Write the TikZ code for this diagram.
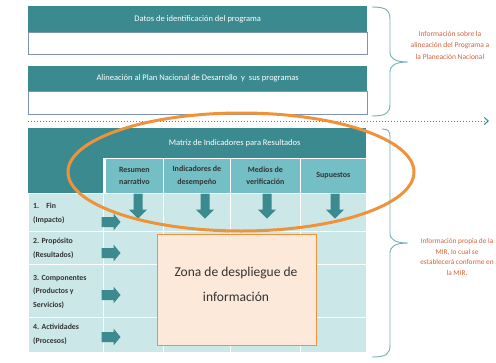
\documentclass[tikz,border=0pt]{standalone}
\usepackage{fontspec}
\setmainfont{Carlito}
\usetikzlibrary{shapes.geometric,arrows.meta}
\definecolor{dteal}{HTML}{3A8A8F}
\definecolor{mteal}{HTML}{74BFC5}
\definecolor{lteal}{HTML}{CBE7E7}
\definecolor{orng}{HTML}{F0923A}
\definecolor{peach}{HTML}{FCE9DA}
\definecolor{rtxt}{HTML}{D4603A}
\definecolor{frame}{HTML}{7F93B5}
\definecolor{lbl}{HTML}{333333}
\newcommand{\rarr}[3]{\coordinate (#1) at (#2,#3);
  \fill[dteal] ([shift={(-9.5,-5)}]#1) -- ([shift={(2.5,-5)}]#1) -- ([shift={(2.5,-8.5)}]#1) -- ([shift={(9.5,0)}]#1) -- ([shift={(2.5,8.5)}]#1) -- ([shift={(2.5,5)}]#1) -- ([shift={(-9.5,5)}]#1) -- cycle;}
\newcommand{\darr}[3]{\coordinate (#1) at (#2,#3);
  \fill[dteal] ([shift={(-4.5,-12.5)}]#1) -- ([shift={(4.5,-12.5)}]#1) -- ([shift={(4.5,3.5)}]#1) -- ([shift={(9,3.5)}]#1) -- ([shift={(0,12.5)}]#1) -- ([shift={(-9,3.5)}]#1) -- ([shift={(-4.5,3.5)}]#1) -- cycle;}
\begin{document}
\begin{tikzpicture}[x=1pt,y=-1pt,
  hdr/.style={fill=dteal,draw=none,text=white,inner sep=0pt,anchor=north west,font=\fontsize{8.5}{9}\selectfont},
  wbox/.style={fill=white,draw=frame,line width=0.8pt,inner sep=0pt,anchor=north west},
  colh/.style={fill=mteal,draw=white,line width=0.8pt,inner sep=0pt,anchor=north west,text=lbl,align=center,font=\bfseries\fontsize{8}{12.5}\selectfont},
  cell/.style={fill=lteal,draw=white,line width=0.8pt,inner sep=0pt,anchor=north west},
  rlab/.style={text=lbl,align=left,anchor=west,inner sep=0pt,font=\bfseries\fontsize{7.8}{13.8}\selectfont},
  side/.style={text=rtxt,align=center,inner sep=0pt,font=\fontsize{7.5}{11.5}\selectfont},
  bracebase/.style={draw=dteal!70,line width=0.9pt}
]
\useasboundingbox (0,0) rectangle (496,362);
% top boxes
\node[hdr,minimum width=339pt,minimum height=26pt] (h1) at (28,6) {Datos de identificación del programa};
\node[wbox,minimum width=339pt,minimum height=22pt] (w1) at (28,32) {};
\node[hdr,minimum width=339pt,minimum height=25pt] (h2) at (28,66) {Alineación al Plan Nacional de Desarrollo\ \ y\ \ sus programas};
\node[wbox,minimum width=339pt,minimum height=23pt] (w2) at (28,91) {};
% dotted separator
\coordinate (ds) at (28,121);
\coordinate (de) at (489,121);
\draw[dteal,dotted,line width=1pt,-{Straight Barb[length=4pt,width=7pt]}] (ds) -- (de);
% table header
\node[hdr,minimum width=75pt,minimum height=65pt] (corner) at (28,128) {};
\node[hdr,minimum width=263pt,minimum height=30pt] (mir) at (103,128) {Matriz de Indicadores para Resultados};
\node[colh,minimum width=58pt,minimum height=35pt] (c1) at (105,158) {Resumen\\narrativo};
\node[colh,minimum width=67pt,minimum height=35pt] (c2) at (163,158) {Indicadores de\\desempeño};
\node[colh,minimum width=70pt,minimum height=35pt] (c3) at (230,158) {Medios de\\verificación};
\node[colh,minimum width=66pt,minimum height=35pt] (c4) at (300,158) {Supuestos};
% body rows
\foreach \y/\h/\n in {193/38/1,231/33/2,264/53/3,317/35/4}{
  \node[cell,minimum width=75pt,minimum height=\h pt] (l\n) at (28,\y) {};
  \node[cell,minimum width=60pt,minimum height=\h pt] (a\n) at (103,\y) {};
  \node[cell,minimum width=67pt,minimum height=\h pt] (b\n) at (163,\y) {};
  \node[cell,minimum width=70pt,minimum height=\h pt] (d\n) at (230,\y) {};
  \node[cell,minimum width=66pt,minimum height=\h pt] (e\n) at (300,\y) {};
}
% row labels
\node[rlab] (t1) at (33,213.5) {1.\ \ \ \ Fin\\(Impacto)};
\node[rlab] (t2) at (33,248.5) {2. Propósito\\(Resultados)};
\node[rlab] (t3) at (33,292) {3. Componentes\\(Productos y\\Servicios)};
\node[rlab] (t4) at (33,334.5) {4. Actividades\\(Procesos)};
% right arrows
\rarr{r1}{111}{222}
\rarr{r2}{111}{253}
\rarr{r3}{111}{295}
\rarr{r4}{111}{337}
% down arrows
\darr{v1}{138}{206}
\darr{v2}{205}{206}
\darr{v3}{267}{206}
\darr{v4}{335}{206}
% display zone
\node[fill=peach,draw=orng,line width=1.4pt,anchor=north west,minimum width=159pt,minimum height=111pt,inner sep=0pt] (zona) at (157,234) {};
\node[text=lbl,align=center,font=\fontsize{13.5}{25}\selectfont] (zt) at (236,284) {Zona de despliegue de\\información};
% ellipse
\node[draw=orng,line width=3pt,ellipse,minimum width=346pt,minimum height=118pt,inner sep=0pt] (ell) at (241,172) {};
% braces
\coordinate (b1s) at (372,7);
\coordinate (b1t) at (408,62);
\coordinate (b1e) at (372,116);
\draw[bracebase] (b1s) .. controls (386,7) and (390,10) .. (390,20) -- (390,52)
  .. controls (390,59) and (396,62) .. (b1t)
  .. controls (396,62) and (390,65) .. (390,72) -- (390,104)
  .. controls (390,113) and (386,116) .. (b1e);
\coordinate (b2s) at (382,129);
\coordinate (b2t) at (408,243);
\coordinate (b2e) at (372,357);
\draw[bracebase] (b2s) .. controls (388,129) and (390,131) .. (390,137) -- (390,233)
  .. controls (390,240) and (396,243) .. (b2t)
  .. controls (396,243) and (390,246) .. (390,253) -- (390,345)
  .. controls (390,354) and (386,357) .. (b2e);
% side texts
\node[side] (s1) at (450,45) {Información sobre la\\alineación del Programa a\\la Planeación Nacional};
\node[side,font=\fontsize{7.3}{10.5}\selectfont] (s2) at (457,257) {Información propia de la\\MIR, lo cual se\\establecerá conforme en\\la MIR.};
\end{tikzpicture}
\end{document}
